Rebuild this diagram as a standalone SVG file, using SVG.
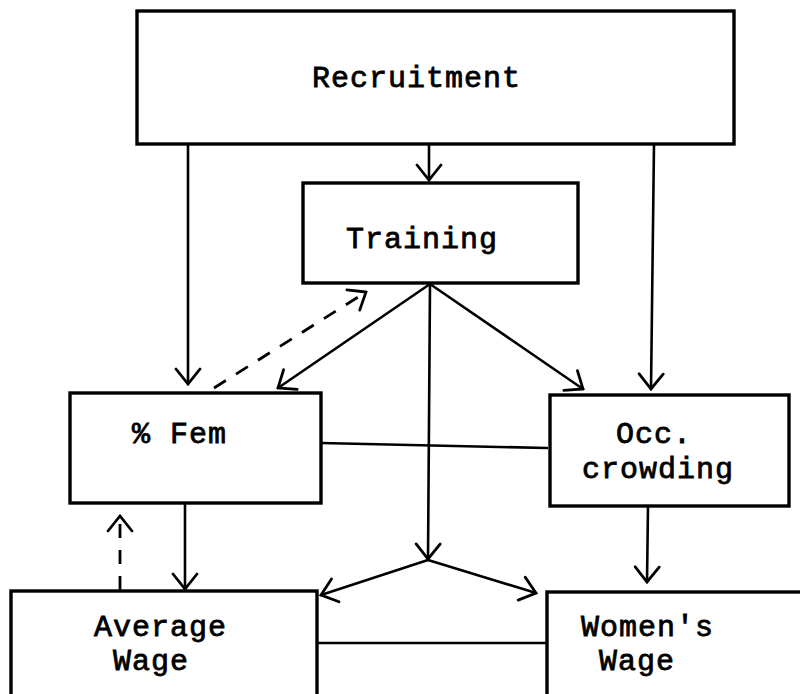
<svg xmlns="http://www.w3.org/2000/svg" width="800" height="694" viewBox="0 0 800 694">
<defs>
<style>
.box{fill:#fff;stroke:#000;stroke-width:3.4}
.t{font-family:"Liberation Mono","DejaVu Sans Mono",monospace;font-size:30px;letter-spacing:1px;fill:#000;stroke:#000;stroke-width:0.8}
.c{fill:none;stroke:#000;stroke-width:2.6;stroke-linecap:round}
.d{fill:none;stroke:#000;stroke-width:2.8;stroke-dasharray:14 12}
</style>
<marker id="ah" viewBox="-17 -15 19 30" markerWidth="19" markerHeight="30" refX="0" refY="0" orient="auto" markerUnits="userSpaceOnUse">
<path d="M-15,-12 L0,0 L-15,12" fill="none" stroke="#000" stroke-width="2.8" stroke-linecap="round"/>
</marker>
</defs>
<rect width="800" height="694" fill="#fff"/>
<g id="connectors">
<line class="c" x1="429" y1="144" x2="429" y2="180" marker-end="url(#ah)"/>
<line class="c" x1="188" y1="144" x2="188" y2="384" marker-end="url(#ah)"/>
<line class="c" x1="654" y1="144" x2="651" y2="389" marker-end="url(#ah)"/>
<line class="c" x1="430" y1="284" x2="278" y2="388" marker-end="url(#ah)"/>
<line class="c" x1="430" y1="284" x2="583" y2="389" marker-end="url(#ah)"/>
<line class="c" x1="430" y1="284" x2="428" y2="559" marker-end="url(#ah)"/>
<line class="c" x1="428" y1="560" x2="321" y2="595" marker-end="url(#ah)"/>
<line class="c" x1="428" y1="560" x2="536" y2="593" marker-end="url(#ah)"/>
<line class="d" x1="214" y1="388" x2="366" y2="292" marker-end="url(#ah)"/>
<line class="d" x1="120" y1="590" x2="120" y2="516" marker-end="url(#ah)"/>
<line class="c" x1="185" y1="504" x2="185" y2="589" marker-end="url(#ah)"/>
<line class="c" x1="648" y1="507" x2="647" y2="582" marker-end="url(#ah)"/>
<line class="c" x1="321" y1="443" x2="547" y2="448"/>
<line class="c" x1="318" y1="643" x2="547" y2="643"/>
</g>
<g id="recruitment">
<rect class="box" x="137" y="11" width="597" height="133"/>
<text class="t" x="312" y="87">Recruitment</text>
</g>
<g id="training">
<rect class="box" x="303" y="183" width="275" height="100"/>
<text class="t" x="346" y="248">Training</text>
</g>
<g id="fem">
<rect class="box" x="70" y="393" width="251" height="110"/>
<text class="t" x="132" y="443">% Fem</text>
</g>
<g id="occ">
<rect class="box" x="550" y="395" width="239" height="111"/>
<text class="t" x="616" y="443">Occ.</text>
<text class="t" x="582" y="478">crowding</text>
</g>
<g id="average-wage">
<rect class="box" x="11" y="591" width="306" height="110"/>
<text class="t" x="94" y="636">Average</text>
<text class="t" x="113" y="670">Wage</text>
</g>
<g id="womens-wage">
<rect class="box" x="547" y="592" width="260" height="110"/>
<text class="t" x="581" y="636">Women's</text>
<text class="t" x="599" y="670">Wage</text>
</g>
</svg>
